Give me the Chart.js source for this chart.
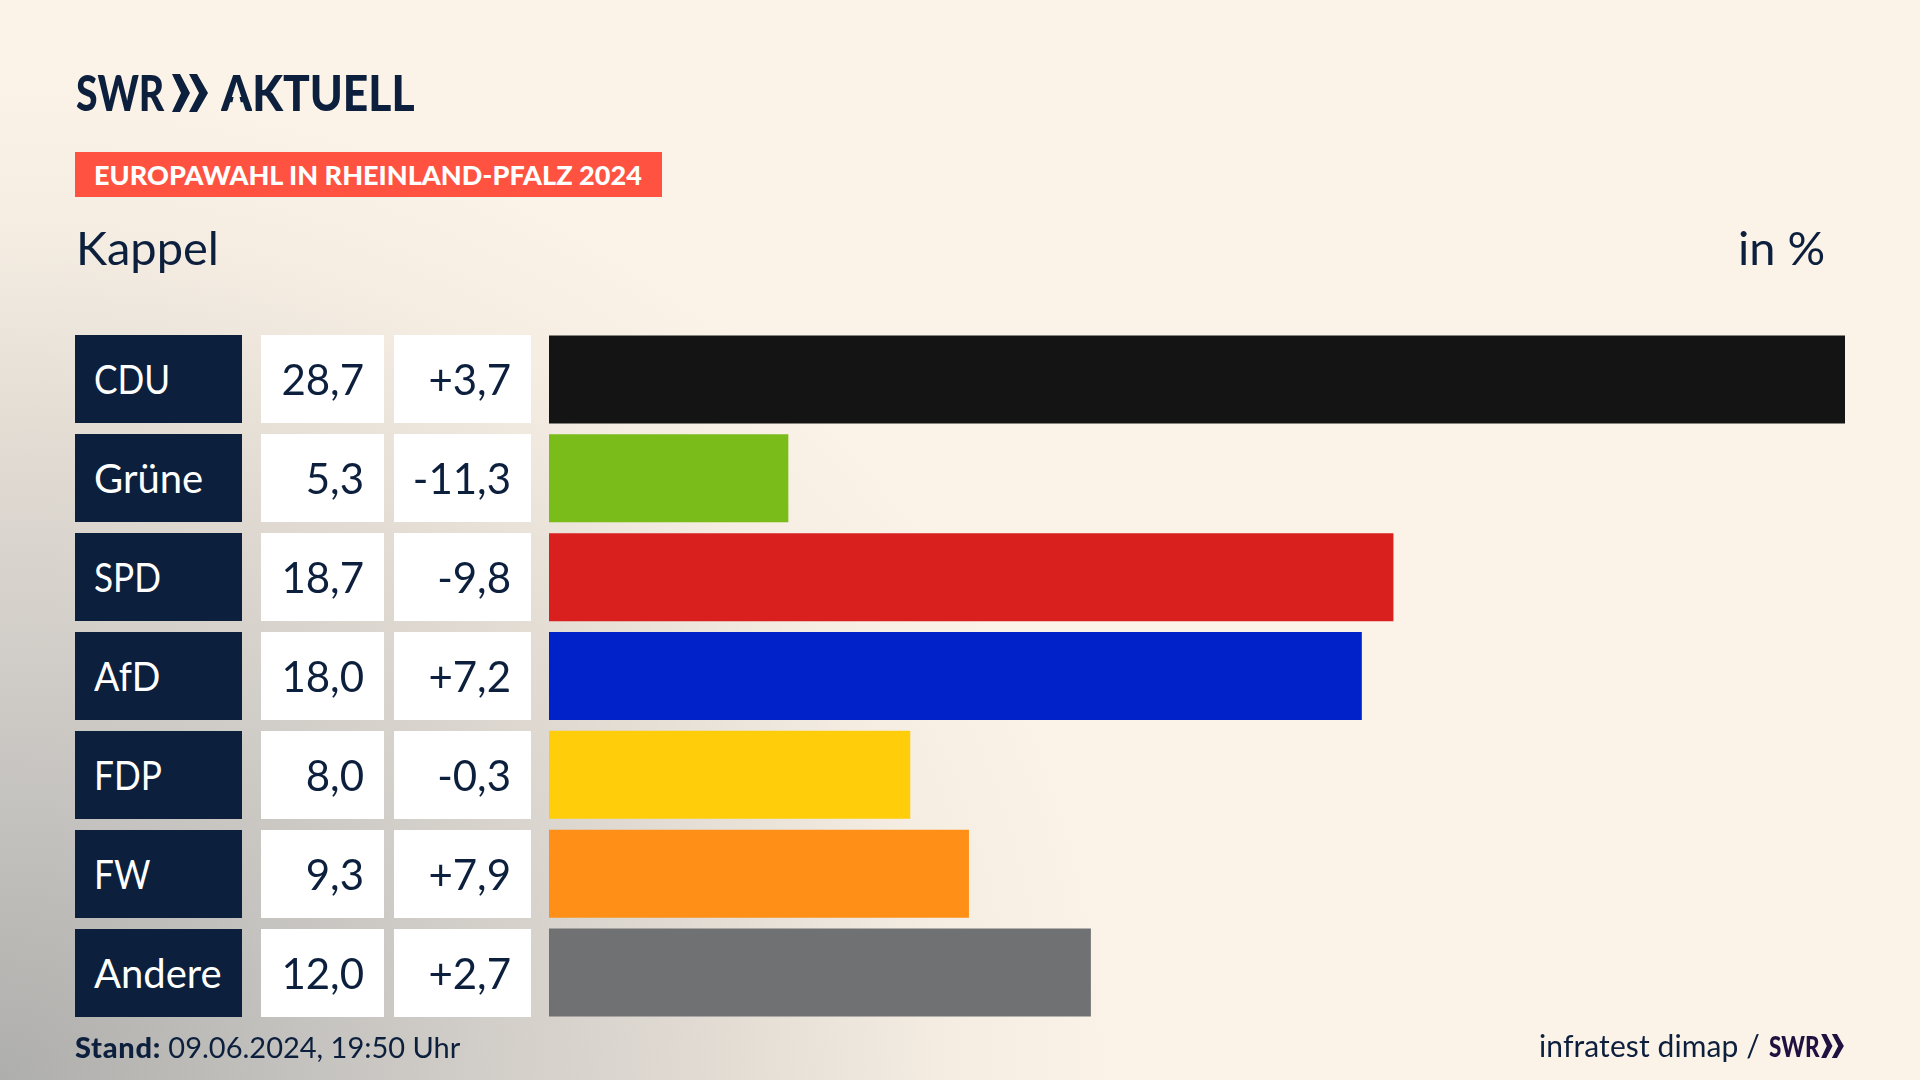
<!DOCTYPE html>
<html lang="de">
<head>
<meta charset="utf-8">
<title>Europawahl in Rheinland-Pfalz 2024 - Kappel</title>
<script src="https://cdn.jsdelivr.net/npm/chart.js@4"></script>
<style>
  html, body { margin: 0; padding: 0; }
  #stage {
    position: relative; width: 1920px; height: 1080px; overflow: hidden;
    font-family: Lato, sans-serif; color: #0c1f3d;
    background: radial-gradient(ellipse 1120px 1000px at 0 100%, #aeaeac 0%, #cbc8c4 35%, #e0dad2 62%, #f5ede2 85%, #fbf3e8 100%) #fbf3e8;
  }
  #balken { position: absolute; left: 0; top: 0; }
  .text { position: absolute; white-space: nowrap; line-height: 1; transform-origin: 0 50%; }
  .box { position: absolute; }
  .logo { font-weight: 900; }
  .kein-steg { display: inline-block; clip-path: polygon(0 0, 100% 0, 100% 100%, 74% 100%, 50% 32%, 26% 100%, 0 100%); }
  svg { position: absolute; }
</style>
</head>
<body>
<div id="stage">
  <canvas id="balken" width="1920" height="1080"></canvas>

  <div class="text logo" style="left:76px;top:68px;font-size:49px;transform:scaleX(0.8)">SWR</div>
  <svg style="left:172px;top:74px" width="36" height="38" viewBox="0 0 36 38" fill="#0c1f3d">
    <path d="M0 0 L8 0 L18 19 L8 38 L0 38 L9 19 Z M17 0 L25 0 L36 19 L25 38 L17 38 L27 19 Z"/>
  </svg>
  <div class="text logo" style="left:221px;top:68px;font-size:49px;transform:scaleX(0.905)"><span class="kein-steg">A</span>KTUELL</div>

  <div class="box" style="left:75px;top:152px;width:587px;height:45px;background:#ff5240"></div>
  <div class="text" style="left:94px;top:161px;font-size:27.2px;font-weight:900;transform:scaleX(0.995);color:#fff">EUROPAWAHL IN RHEINLAND-PFALZ 2024</div>

  <div class="text" style="left:76px;top:224px;font-size:47px">Kappel</div>
  <div class="text" style="left:1738px;top:224px;font-size:47px">in %</div>

  <div class="text" style="left:75px;top:1032px;font-size:29px"><b style="font-weight:900;letter-spacing:0.7px">Stand:</b> 09.06.2024, 19:50 Uhr</div>
  <div class="text" style="left:1539px;top:1030px;font-size:30px;letter-spacing:0.1px">infratest dimap /</div>
  <div class="text logo" style="left:1769px;top:1032px;font-size:28px;color:#1f1240;transform:scaleX(0.8)">SWR</div>
  <svg style="left:1821px;top:1034px" width="23" height="24" viewBox="0 0 36 38" fill="#1f1240">
    <path d="M0 0 L8 0 L18 19 L8 38 L0 38 L9 19 Z M17 0 L25 0 L36 19 L25 38 L17 38 L27 19 Z"/>
  </svg>
</div>

<script>
const parteien = ["CDU", "Grüne", "SPD", "AfD", "FDP", "FW", "Andere"];
const anteile = [28.7, 5.3, 18.7, 18.0, 8.0, 9.3, 12.0];
const anteilTexte = ["28,7", "5,3", "18,7", "18,0", "8,0", "9,3", "12,0"];
const differenzTexte = ["+3,7", "-11,3", "-9,8", "+7,2", "-0,3", "+7,9", "+2,7"];
const farben = ["#141414", "#7abd1a", "#d9201f", "#0222c9", "#ffcd0a", "#ff8f17", "#707173"];
// Versalien laufen in der Vorlage schmaler als in Lato
const laufweiten = [0.88, 1, 0.88, 0.94, 0.88, 0.88, 1];

const stage = document.getElementById("stage");

const chart = new Chart(document.getElementById("balken"), {
  type: "bar",
  data: {
    labels: parteien,
    datasets: [
      {
        data: anteile,
        backgroundColor: farben,
        borderWidth: 0,
        categoryPercentage: 1,
        barPercentage: 0.89,
      },
    ],
  },
  options: {
    indexAxis: "y",
    responsive: false,
    animation: false,
    layout: { padding: { left: 549, right: 75, top: 330, bottom: 58 } },
    plugins: {
      title: { display: false },
      legend: { display: false },
      tooltip: { enabled: false },
    },
    scales: {
      x: { display: false, min: 0, max: 28.7 },
      y: { display: false, grid: { display: false } },
    },
  },
});

function zelle(left, width, y, farbe) {
  const el = document.createElement("div");
  el.className = "box";
  el.style.cssText = `left:${left}px;width:${width}px;top:${y - 44}px;height:88px;background:${farbe}`;
  stage.appendChild(el);
}

function text(inhalt, y, farbe, groesse, links, rechts, laufweite) {
  const el = document.createElement("div");
  el.className = "text";
  el.textContent = inhalt;
  el.style.cssText = `top:${y - groesse / 2}px;font-size:${groesse}px;color:${farbe};` +
    (links !== null ? `left:${links}px;transform:scaleX(${laufweite})` : `right:${1920 - rechts}px`);
  stage.appendChild(el);
}

// Tabelle links an den Balken ausrichten
parteien.forEach((partei, i) => {
  const y = chart.scales.y.getPixelForValue(i);
  zelle(75, 167, y, "#0c1f3d");
  zelle(261, 123, y, "#ffffff");
  zelle(394, 137, y, "#ffffff");
  text(partei, y, "#ffffff", 40, 94, null, laufweiten[i]);
  text(anteilTexte[i], y, "#0c1f3d", 42, null, 364);
  text(differenzTexte[i], y, "#0c1f3d", 42, null, 511);
});
</script>
</body>
</html>
